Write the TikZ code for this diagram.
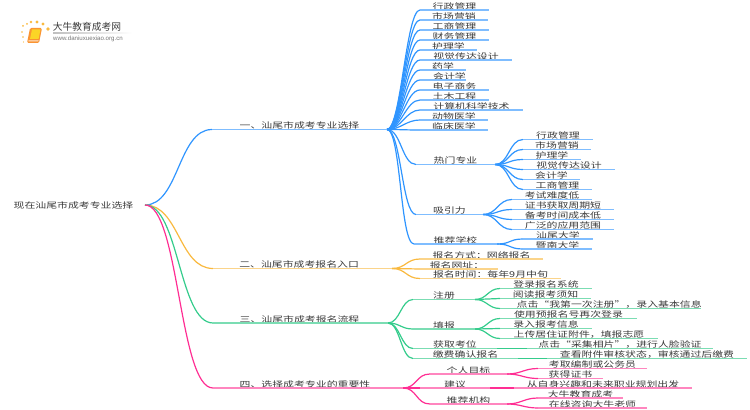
\documentclass[tikz,border=0pt]{standalone}
\usepackage{fontspec}
\setmainfont{Noto Sans CJK SC}[FakeStretch=1.36]
\newfontfamily\logofont{Noto Sans CJK SC}
\newfontfamily\urlfont{Liberation Sans}
\usetikzlibrary{positioning,shadings}
\definecolor{inkgrey}{HTML}{3A3A3A}
\definecolor{blueline}{HTML}{2F95FF}
\definecolor{bluebar}{HTML}{7FBDFF}
\definecolor{orangeline}{HTML}{F9B93F}
\definecolor{orangebar}{HTML}{FBD48A}
\definecolor{greenline}{HTML}{35CC8C}
\definecolor{greenbar}{HTML}{7BDDB3}
\definecolor{pinkline}{HTML}{FF2E93}
\definecolor{pinkbar}{HTML}{FF86BF}
\newcommand{\nudge}[2]{\makebox[0pt][c]{\hspace*{#1}#2}}
\tikzset{
  topic/.style={anchor=south west,inner sep=0pt,outer sep=0pt,text=inkgrey,
    font=\fontsize{6pt}{8pt}\selectfont,text height=5.6pt,text depth=0.6pt},
  w/.style={minimum width=#1*0.75pt},
  link/.style={line width=0.9pt},
  bar/.style={line width=0.8pt},
  sshape/.style={to path={.. controls +(#1,0) and +(-#1,0) .. (\tikztotarget)}},
}
\begin{document}
\begin{tikzpicture}[x=0.75pt,y=-0.75pt]
\useasboundingbox (0,0) rectangle (750,410);
% logo
\foreach \ax/\ay/\ar in {23/26/1,22/32/.9,23/37/.8,23.5/42/.6,27/24/1,31/22/1.4,37/22/1.6,43/24/1.6,48/29/1.9}
  \fill[orangeline] (\ax,\ay) circle (\ar);
\fill[orangeline!80!red,rounded corners=1] (30,28) -- (42,28) -- (39,43) -- (27,43) -- cycle;
\fill[orangeline!60!yellow] (32,29.5) -- (40.5,29.5) -- (38.5,39) -- (30,39) -- cycle;
\fill[white,opacity=.8] (28.5,40.5) -- (38.5,40.5) -- (38.2,41.5) -- (28.3,41.5) -- cycle;
\node[inner sep=0pt,text=inkgrey,font=\logofont\fontsize{7.3pt}{8pt}\selectfont] (logoname) at (87,27) {大牛教育成考网};
\node[inner sep=0pt,text=inkgrey!70,font=\urlfont\fontsize{4.6pt}{6pt}\selectfont] (logourl) at (88,38.5) {www.daniuxuexiao.org.cn};
\shade[left color=black!25,right color=white] (53,33) rectangle (132,33.6);
% root and main branches
\node[topic,anchor=center] (root) at (73.5,205) {现在汕尾市成考专业选择};
\coordinate (rootend) at (145,205);
\node[topic,w=175] (one) at (212,129.5) {一、汕尾市成考专业选择};
\node[topic,w=179] (two) at (213,268.5) {\nudge{-5pt}{二、汕尾市成考报名入口}};
\node[topic,w=175] (three) at (213,323) {\nudge{-1.5pt}{三、汕尾市成考报名流程}};
\node[topic,w=190] (four) at (213,388) {\nudge{-4.5pt}{四、选择成考专业的重要性}};
% branch one
\node[topic,w=69] (xz) at (420,10) {行政管理};
\node[topic,w=68] (sc) at (420,20) {市场营销};
\node[topic,w=69] (gs) at (420,30) {工商管理};
\node[topic,w=69] (cw) at (420,40) {财务管理};
\node[topic,w=57] (hl) at (420,50) {护理学};
\node[topic,w=92] (sj) at (420,60) {视觉传达设计};
\node[topic,w=46] (yx) at (420,70) {药学};
\node[topic,w=46] (kj) at (420,80) {\nudge{9.75pt}{会计学}};
\node[topic,w=69] (ds) at (420,90) {电子商务};
\node[topic,w=69] (tm) at (420,100) {土木工程};
\node[topic,w=103] (jsj) at (420,110) {计算机科学技术};
\node[topic,w=68] (dw) at (420,120) {动物医学};
\node[topic,w=68] (lc) at (420,130) {临床医学};
\node[topic,w=79] (rm) at (416,164.5) {热门专业};
\node[topic,w=67] (xy) at (416,214.5) {吸引力};
\node[topic,w=83] (tj) at (414,244) {推荐学校};
\node[topic,w=70] (rxz) at (523,139.5) {行政管理};
\node[topic,w=68] (rsc) at (523,149.5) {市场营销};
\node[topic,w=58] (rhl) at (523,159.5) {护理学};
\node[topic,w=92] (rsj) at (523,169.5) {视觉传达设计};
\node[topic,w=57] (rkj) at (523,179.5) {会计学};
\node[topic,w=69] (rgs) at (523,189.5) {工商管理};
\node[topic,w=80] (nd) at (512,199.5) {考试难度低};
\node[topic,w=102] (zs) at (512,209.5) {证书获取周期短};
\node[topic,w=102] (bk) at (512,219.5) {备考时间成本低};
\node[topic,w=102] (gf) at (512,229.5) {广泛的应用范围};
\node[topic,w=70] (st) at (523,239) {汕尾大学};
\node[topic,w=69] (jn) at (523,249) {暨南大学};
% branch two
\node[topic,w=123] (fs) at (420,259) {报名方式：网络报名};
\node[topic,w=78] (wz) at (420,269) {\nudge{-3pt}{报名网址：}};
\node[topic,w=141] (sj2) at (420,278.5) {报名时间：每年9月中旬};
% branch three
\node[topic,w=62] (zc) at (413,299.5) {注册};
\node[topic,w=62] (tb) at (413,329) {填报};
\node[topic,w=84] (hq) at (413,348.5) {获取考位};
\node[topic,w=105] (jf) at (413,358.5) {缴费确认报名};
\node[topic,w=92] (dl) at (500,288.5) {登录报名系统};
\node[topic,w=91] (yd) at (500,298.5) {阅读报考须知};
\node[topic,w=201] (dj) at (500,308.5) {\nudge{13pt}{点击“我第一次注册”，录入基本信息}};
\node[topic,w=137] (sy) at (500,318.5) {使用预报名号再次登录};
\node[topic,w=92] (lr) at (500,328.5) {录入报考信息};
\node[topic,w=158] (sc2) at (500,338.5) {上传居住证附件，填报志愿};
\node[topic,w=186] (cj) at (527,348.5) {点击“采集相片”，进行人脸验证};
\node[topic,w=200] (ck) at (547,358.5) {查看附件审核状态，审核通过后缴费};
% branch four
\node[topic,w=77] (gr) at (430,374) {个人目标};
\node[topic,w=70] (jy) at (420,388) {建议};
\node[topic,w=77] (jg) at (430,404) {推荐机构};
\node[topic,w=109] (kq) at (538,368.5) {考取编制或公务员};
\node[topic,w=65] (hd) at (538,378.5) {获得证书};
\node[topic,w=178] (zz) at (514,388) {从自身兴趣和未来职业规划出发};
\node[topic,w=85] (dn) at (538,398) {大牛教育成考};
\node[topic,w=109] (zx) at (538,408) {在线咨询大牛老师};
% connectors
\draw[blueline,link] (rootend) to[sshape=34] (one.south west);
\draw[orangeline,link] (rootend) to[sshape=34] (two.south west);
\draw[greenline,link] (rootend) to[sshape=34] (three.south west);
\draw[pinkline,link] (rootend) to[sshape=34] (four.south west);
\foreach \p/\c in {one/xz,one/sc,one/gs,one/cw,one/hl,one/sj,one/yx,one/kj,one/ds,one/tm,one/jsj,one/dw,one/lc,one/rm,one/xy,one/tj,
  rm/rxz,rm/rsc,rm/rhl,rm/rsj,rm/rkj,rm/rgs,xy/nd,xy/zs,xy/bk,xy/gf,tj/st,tj/jn}
  \draw[blueline,link] (\p.south east) to[sshape=14] (\c.south west);
\foreach \c in {one,xz,sc,gs,cw,hl,sj,yx,kj,ds,tm,jsj,dw,lc,rm,xy,tj,rxz,rsc,rhl,rsj,rkj,rgs,nd,zs,bk,gf,st,jn}
  \draw[bluebar,bar] (\c.south west) -- (\c.south east);
\foreach \c in {fs,wz,sj2}
  \draw[orangeline,link] (two.south east) to[sshape=14] (\c.south west);
\foreach \c in {two,fs,wz,sj2}
  \draw[orangebar,bar] (\c.south west) -- (\c.south east);
\foreach \p/\c in {three/zc,three/tb,three/hq,three/jf,zc/dl,zc/yd,zc/dj,tb/sy,tb/lr,tb/sc2,hq/cj,jf/ck}
  \draw[greenline,link] (\p.south east) to[sshape=12] (\c.south west);
\foreach \c in {three,zc,tb,hq,jf,dl,yd,dj,sy,lr,sc2,cj,ck}
  \draw[greenbar,bar] (\c.south west) -- (\c.south east);
\foreach \p/\c in {four/gr,four/jy,four/jg,gr/kq,gr/hd,jy/zz,jg/dn,jg/zx}
  \draw[pinkline,link] (\p.south east) to[sshape=14] (\c.south west);
\foreach \c in {four,gr,jy,jg,kq,hd,zz,dn,zx}
  \draw[pinkbar,bar] (\c.south west) -- (\c.south east);
\end{tikzpicture}
\end{document}
